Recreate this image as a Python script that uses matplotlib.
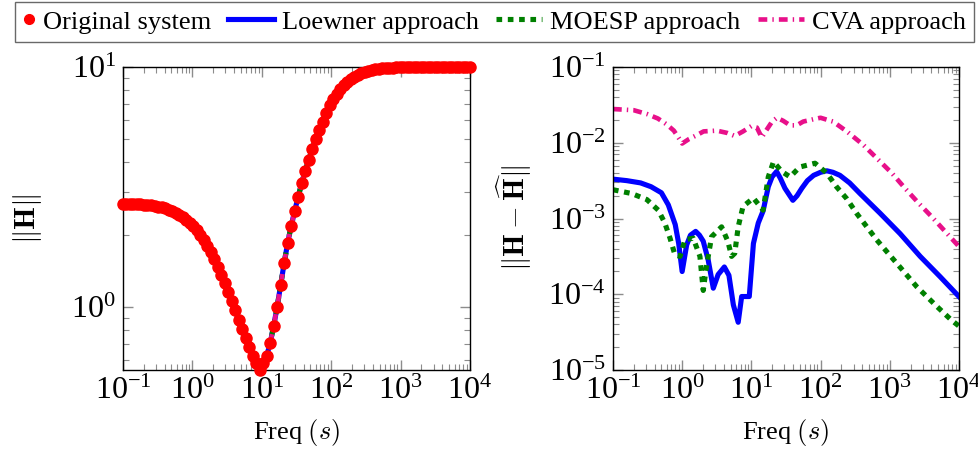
import numpy as np
import matplotlib
matplotlib.use("Agg")
import matplotlib.pyplot as plt
from matplotlib.legend_handler import HandlerLine2D
from matplotlib.ticker import LogLocator, NullFormatter, LogFormatterMathtext

# ---- left panel: |H| of the original system, 100 log-spaced samples
freq = np.logspace(-1, 4, 100)
h_orig = [
    2.692, 2.692, 2.685, 2.685, 2.679, 2.673, 2.667, 2.661, 2.649, 2.636,
    2.618, 2.600, 2.576, 2.547, 2.512, 2.472, 2.427, 2.371, 2.312, 2.244,
    2.168, 2.084, 1.995, 1.897, 1.795, 1.690, 1.581, 1.472, 1.365, 1.259,
    1.156, 1.059, 0.968, 0.885, 0.809, 0.741, 0.679, 0.625, 0.582, 0.546,
    0.582, 0.625, 0.706, 0.834, 1.000, 1.236, 1.524, 1.849, 2.175, 2.512,
    2.884, 3.273, 3.690, 4.098, 4.550, 4.989, 5.464, 5.916, 6.412, 6.918,
    7.345, 7.727, 8.072, 8.375, 8.650, 8.892, 9.100, 9.268, 9.419, 9.528,
    9.638, 9.705, 9.772, 9.817, 9.863, 9.886, 9.908, 9.931, 9.954, 9.954,
    9.960, 9.970, 9.970, 9.980, 9.980, 9.980, 9.990, 9.990, 9.990, 9.990,
    9.990, 9.995, 9.995, 9.997, 9.997, 9.998, 9.998, 9.999, 9.999, 10.00,
]

# ---- right panel: approximation errors, read as (log10 f, log10 err)
lw_logf = [-1.00, -0.80, -0.60, -0.45, -0.30, -0.20, -0.10, -0.05, 0.00,
           0.065, 0.12, 0.195, 0.25, 0.305, 0.377, 0.45, 0.52, 0.61,
           0.676, 0.74, 0.81, 0.86, 0.97, 1.03, 1.10, 1.17, 1.245, 1.30,
           1.365, 1.42, 1.485, 1.60, 1.66, 1.73, 1.81, 1.90, 2.00, 2.09,
           2.18, 2.28, 2.42, 2.57, 2.86, 3.15, 3.44, 3.73, 4.00]
lw_logerr = [-2.48, -2.50, -2.53, -2.58, -2.66, -2.82, -3.08, -3.33, -3.70,
             -3.35, -3.22, -3.17, -3.22, -3.30, -3.55, -3.92, -3.74, -3.64,
             -3.75, -4.14, -4.37, -4.03, -4.03, -3.33, -3.06, -2.90, -2.58,
             -2.45, -2.38, -2.47, -2.60, -2.76, -2.70, -2.60, -2.50, -2.43,
             -2.39, -2.37, -2.39, -2.43, -2.53, -2.67, -2.93, -3.20, -3.50,
             -3.77, -4.03]

mo_logf = [-1.00, -0.73, -0.51, -0.345, -0.25, -0.175, -0.104, -0.03,
           0.04, 0.16, 0.257, 0.28, 0.305, 0.35, 0.426, 0.57, 0.66, 0.715,
           0.76, 0.81, 0.88, 1.03, 1.17, 1.245, 1.32, 1.44, 1.56, 1.70,
           1.92, 2.09, 2.23, 2.38, 2.52, 2.81, 3.10, 3.39, 3.68, 3.89, 4.00]
mo_logerr = [-2.62, -2.67, -2.75, -2.89, -3.06, -3.26, -3.48, -3.50,
             -3.28, -3.26, -3.50, -3.72, -3.95, -3.64, -3.24, -3.11, -3.30,
             -3.50, -3.46, -3.11, -2.84, -2.73, -2.89, -2.45, -2.25, -2.38,
             -2.45, -2.32, -2.27, -2.40, -2.58, -2.74, -2.93, -3.28, -3.59,
             -3.90, -4.16, -4.34, -4.42]

cva_logf = [-1.00, -0.70, -0.51, -0.35, -0.22, -0.12, -0.04, 0.00, 0.10,
            0.21, 0.31, 0.50, 0.65, 0.76, 0.88, 1.00, 1.08, 1.15, 1.22,
            1.30, 1.37, 1.46, 1.56, 1.655, 1.75, 1.895, 2.00, 2.18, 2.38,
            2.62, 2.83, 3.03, 3.22, 3.41, 3.61, 3.80, 4.00]
cva_logerr = [-1.555, -1.57, -1.62, -1.68, -1.76, -1.84, -1.95, -2.01,
              -1.95, -1.90, -1.85, -1.84, -1.87, -1.91, -1.85, -1.78, -1.80,
              -1.93, -1.83, -1.72, -1.67, -1.71, -1.77, -1.77, -1.72, -1.69,
              -1.67, -1.72, -1.85, -2.03, -2.22, -2.40, -2.60, -2.79, -2.98,
              -3.17, -3.37]

RED, BLUE, GREEN, PINK = "#ff0000", "#0000ff", "#008000", "#e8108a"
LW = 3.7
sty_lw = dict(color=BLUE, lw=LW, ls="-")
sty_mo = dict(color=GREEN, lw=LW, ls=(0, (1.1, 1.1)), dash_capstyle="butt")
sty_cva = dict(color=PINK, lw=LW * 0.9, ls=(0, (1.9, 1.1, 0.3, 1.1)),
               dash_capstyle="butt")


class NarrowMarker(HandlerLine2D):
    # marks-only legend entry gets a narrow image, as in pgfplots
    def legend_artist(self, legend, orig_handle, fontsize, handlebox):
        handlebox.width = 0.45 * fontsize
        return super().legend_artist(legend, orig_handle, fontsize, handlebox)


plt.rcParams["font.family"] = "serif"
plt.rcParams["font.serif"] = ["Liberation Serif", "DejaVu Serif"]
plt.rcParams["mathtext.fontset"] = "cm"

fig = plt.figure(figsize=(9.79, 4.51), dpi=100)
axL = fig.add_axes([0.1256, 0.1796, 0.3544, 0.6718])
axR = fig.add_axes([0.6261, 0.1796, 0.3534, 0.6718])

# left
axL.plot(freq, h_orig, zorder=2, **sty_lw)
axL.plot(freq, h_orig, zorder=2, **sty_mo)
axL.plot(freq, h_orig, zorder=2, **sty_cva)
axL.plot(freq, h_orig, ls="none", marker="o", ms=8, color=RED, zorder=3,
         clip_on=False)
axL.set_ylim(min(h_orig), max(h_orig))
axL.set_ylabel(r"$\|\mathbf{H}\|$", fontsize=21, labelpad=20)

# right
axR.plot(10 ** np.array(lw_logf), 10 ** np.array(lw_logerr), **sty_lw)
axR.plot(10 ** np.array(mo_logf), 10 ** np.array(mo_logerr), **sty_mo)
axR.plot(10 ** np.array(cva_logf), 10 ** np.array(cva_logerr), **sty_cva)
axR.set_ylim(1e-5, 1e-1)
axR.set_ylabel(r"$\|\mathbf{H}-\widehat{\mathbf{H}}\|$", fontsize=21,
               labelpad=10)

for ax in (axL, axR):
    ax.set_xscale("log")
    ax.set_yscale("log")
    ax.set_xlim(0.1, 1e4)
    ax.set_xlabel(r"Freq $(s)$", fontsize=19, labelpad=8)
    for a in (ax.xaxis, ax.yaxis):
        a.set_major_locator(LogLocator(base=10, numticks=20))
        a.set_minor_locator(LogLocator(base=10, subs=np.arange(2, 10),
                                       numticks=20))
        a.set_major_formatter(LogFormatterMathtext())
        a.set_minor_formatter(NullFormatter())
    ax.tick_params(which="both", direction="in", top=True, right=True,
                   color="#8c8c8c", labelsize=23)
    ax.tick_params(which="major", length=7, width=1.0, pad=5)
    ax.tick_params(which="minor", length=4, width=0.8)
    for s in ax.spines.values():
        s.set_linewidth(1.0)

handles = [
    plt.Line2D([], [], ls="none", marker="o", ms=7, color=RED),
    plt.Line2D([], [], **sty_lw),
    plt.Line2D([], [], **sty_mo),
    plt.Line2D([], [], **sty_cva),
]
labels = ["Original system", "Loewner approach", "MOESP approach",
          "CVA approach"]
leg = fig.legend(handles, labels, loc="upper center", ncol=4,
                 bbox_to_anchor=(0.505, 0.995), fontsize=19,
                 frameon=True, fancybox=False, edgecolor="#444444",
                 handlelength=1.75, handletextpad=0.3, columnspacing=0.65,
                 borderpad=0.3, borderaxespad=0.0, numpoints=1,
                 handler_map={handles[0]: NarrowMarker()})
leg.get_frame().set_linewidth(1.0)

fig.savefig("out.png", dpi=100)
